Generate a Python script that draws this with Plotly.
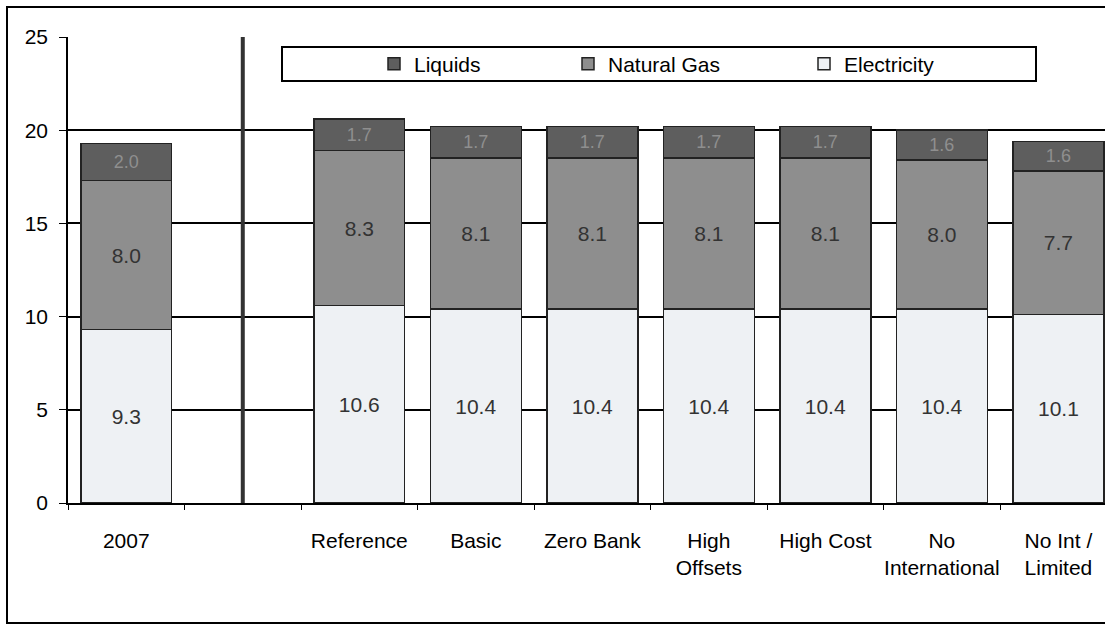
import plotly.graph_objects as go

categories = ["2007", " ", "Reference", "Basic", "Zero Bank", "High<br>Offsets",
              "High Cost", "No<br>International", "No Int /<br>Limited"]
electricity = [9.3, None, 10.6, 10.4, 10.4, 10.4, 10.4, 10.4, 10.1]
natural_gas = [8.0, None, 8.3, 8.1, 8.1, 8.1, 8.1, 8.0, 7.7]
liquids = [2.0, None, 1.7, 1.7, 1.7, 1.7, 1.7, 1.6, 1.6]

font = "Liberation Sans, Arial, sans-serif"
W, H = 1105, 625
L, T, B = 68, 37, 122
pw, ph = W - L, H - T - B


def px_x(p):
    return (p - L) / pw


def px_y(p):
    return (H - B - p) / ph


fig = go.Figure()
# name, values, fill, label colour, label size, legend id, legend text start (px)
series = [
    ("Electricity", electricity, "#eef1f4", "#333333", 21, "legend3", 838),
    ("Natural Gas", natural_gas, "#8e8e8e", "#333333", 21, "legend2", 602),
    ("Liquids", liquids, "#5e5e5e", "#8f8f8f", 18, "legend", 408),
]
legends = {}
for name, vals, color, tcolor, tsize, lg, tx in series:
    fig.add_trace(go.Bar(
        x=categories, y=vals, name=name, width=0.78, legend=lg,
        marker=dict(color=color, line=dict(color="#222222", width=1.5)),
        texttemplate="%{y:.1f}", textposition="inside", insidetextanchor="middle",
        textfont=dict(family=font, size=tsize, color=tcolor),
        constraintext="none",
    ))
    legends[lg] = dict(orientation="h", x=px_x(tx - 34), xanchor="left",
                       y=px_y(64), yanchor="middle",
                       bgcolor="rgba(0,0,0,0)", borderwidth=0,
                       font=dict(family=font, size=21, color="black"))

fig.update_layout(
    width=W, height=H, barmode="stack",
    margin=dict(l=L, r=0, t=T, b=B),
    plot_bgcolor="white", paper_bgcolor="white",
    font=dict(family=font, size=21, color="black"),
    showlegend=True,
    shapes=[
        # legend box
        dict(type="rect", xref="paper", yref="paper",
             x0=px_x(282), x1=px_x(1036), y0=px_y(81), y1=px_y(47),
             line=dict(color="black", width=2), fillcolor="white", layer="above"),
        # separator between history and scenarios
        dict(type="line", xref="x", yref="paper", x0=1, x1=1, y0=0, y1=1,
             line=dict(color="#333333", width=4)),
        # outer frame
        dict(type="rect", xref="paper", yref="paper",
             x0=px_x(7), x1=1.02, y0=px_y(623), y1=px_y(7),
             line=dict(color="black", width=2), fillcolor="rgba(0,0,0,0)", layer="below"),
    ],
    annotations=[
        # chart title, cut off at the top edge as in the source
        dict(text="<b>(quadrillion Btu)</b>", xref="paper", yref="paper",
             x=px_x(237), y=px_y(1), xanchor="center", yanchor="bottom",
             showarrow=False, font=dict(family="Liberation Serif, Times New Roman, serif",
                                        size=26, color="black")),
    ],
    **legends,
)

fig.update_xaxes(
    range=[-0.5, 8.4], categoryorder="array", categoryarray=categories,
    showline=True, linecolor="black", linewidth=1.5,
    ticks="outside", tickson="boundaries", ticklen=5, tickcolor="black",
    showgrid=False, ticklabelstandoff=18, tickangle=0,
    tickfont=dict(family=font, size=21, color="black"),
)
fig.update_yaxes(
    range=[0, 25], dtick=5,
    showline=True, linecolor="black", linewidth=1.5,
    ticks="outside", ticklen=7, tickcolor="black",
    showgrid=True, gridcolor="black", gridwidth=1.8, zeroline=False,
    ticklabelstandoff=7,
    tickfont=dict(family=font, size=21, color="black"),
)

fig.write_html("out.html", config={"displayModeBar": False},
               post_script="document.body.style.margin='0px';")
